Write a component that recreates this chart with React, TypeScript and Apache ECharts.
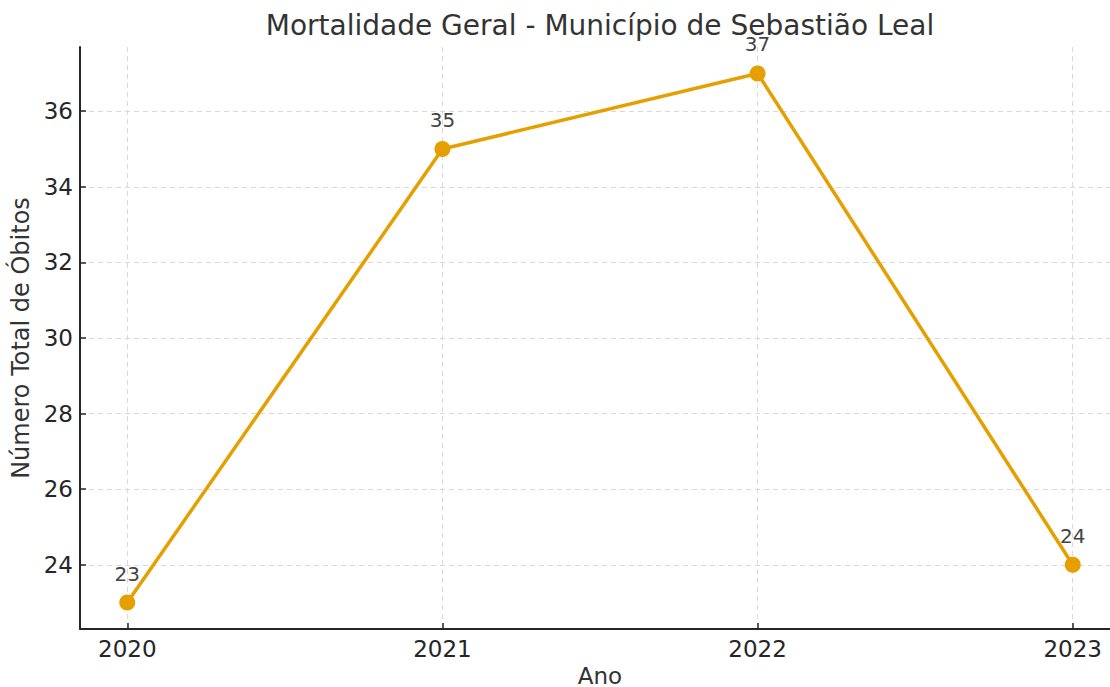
import React, { useEffect, useRef } from "react";
import * as echarts from "echarts";

const years = [2020, 2021, 2022, 2023];
const deaths = [23, 35, 37, 24];
const yTicks = [24, 26, 28, 30, 32, 34, 36];
const xTicks = [2020, 2021, 2022, 2023];

export default function App() {
  const ref = useRef<HTMLDivElement>(null);
  useEffect(() => {
    document.body.style.margin = "0";
    const chart = echarts.init(ref.current!, null, { renderer: "svg" });
    const font = "DejaVu Sans";
    chart.setOption({
      animation: false,
      backgroundColor: "#ffffff",
      title: {
        text: "Mortalidade Geral - Município de Sebastião Leal",
        left: 595,
        top: 6,
        textAlign: "center",
        textStyle: { fontFamily: font, fontSize: 28, fontWeight: "normal", color: "#333333" },
      },
      grid: { left: 80, top: 47, bottom: 58, right: -10, outerBoundsMode: "none", containLabel: false },
      xAxis: {
        type: "value",
        min: 2019.85,
        max: 2023.15,
        name: "Ano",
        nameLocation: "middle",
        nameGap: 36,
        nameTextStyle: { fontFamily: font, fontSize: 23, color: "#333333", lineHeight: 17 },
        axisLine: { show: true, lineStyle: { color: "#262626", width: 2 } },
        axisTick: { show: true, inside: true, length: 6, lineStyle: { color: "#262626", width: 1.5 }, customValues: xTicks },
        axisLabel: { fontFamily: font, fontSize: 23, color: "#262626", margin: 8, customValues: xTicks, formatter: (v: number) => String(v) },
        splitLine: { show: true, lineStyle: { color: "#d9d9d9", type: [5, 4], width: 1 } },
      },
      yAxis: {
        type: "value",
        min: 22.3,
        max: 37.7,
        name: "Número Total de Óbitos",
        nameLocation: "middle",
        nameGap: 46,
        nameTextStyle: { fontFamily: font, fontSize: 24, color: "#333333" },
        axisLine: { show: true, lineStyle: { color: "#262626", width: 2 } },
        axisTick: { show: true, inside: true, length: 6, lineStyle: { color: "#262626", width: 1.5 }, customValues: yTicks },
        axisLabel: { fontFamily: font, fontSize: 23, color: "#262626", margin: 7, customValues: yTicks },
        splitLine: { show: true, lineStyle: { color: "#d9d9d9", type: [5, 4], width: 1 } },
      },
      series: [
        {
          type: "line",
          data: years.map((y, i) => [y, deaths[i]]),
          symbol: "circle",
          symbolSize: 16,
          lineStyle: { color: "#E69F00", width: 3.5 },
          itemStyle: { color: "#E69F00" },
          label: {
            show: true,
            position: "top",
            distance: 11,
            fontFamily: font,
            fontSize: 20,
            color: "#444444",
          },
        },
      ],
    });
    return () => chart.dispose();
  }, []);
  return <div ref={ref} style={{ width: 1110, height: 687 }} />;
}
